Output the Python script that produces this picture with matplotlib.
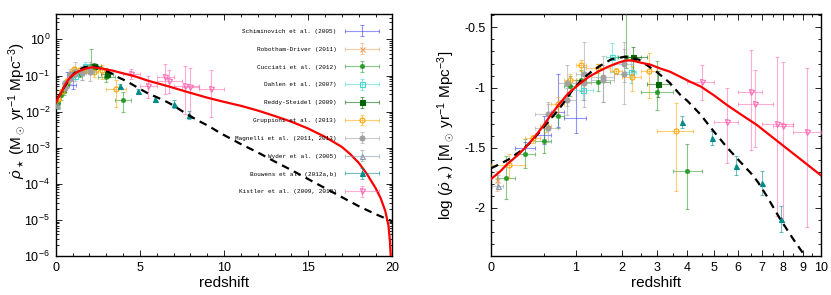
import numpy as np
import matplotlib
matplotlib.use("Agg")
import matplotlib.pyplot as plt
from matplotlib.colors import to_rgba
from matplotlib.container import ErrorbarContainer
from matplotlib.legend_handler import HandlerErrorbar
from matplotlib.ticker import FixedLocator, MultipleLocator, LogLocator, NullFormatter, FormatStrFormatter

plt.rcParams['font.family'] = ['Liberation Sans', 'DejaVu Sans']
plt.rcParams['mathtext.fontset'] = 'custom'
plt.rcParams['mathtext.rm'] = 'Liberation Sans'
plt.rcParams['mathtext.it'] = 'Liberation Sans:italic'
plt.rcParams['axes.unicode_minus'] = False

# model curves, log10 of the star formation rate density
red_z = [0, 0.069, 0.139, 0.229, 0.310, 0.397, 0.489, 0.580, 0.703, 0.865, 1.041, 1.232,
         1.440, 1.664, 1.905, 2.074, 2.243, 2.518, 2.80, 3.14, 3.41, 4.09, 4.47, 4.96, 5.48,
         6.07, 6.77, 7.86, 9.0, 10, 11, 12, 13, 14, 15, 16, 17, 17.5, 18, 18.5, 19, 19.3,
         19.57, 19.76, 19.85, 19.92]
red_v = [-1.76, -1.70, -1.63, -1.56, -1.49, -1.41, -1.32, -1.24, -1.15, -1.05, -0.98, -0.915,
         -0.868, -0.827, -0.794, -0.777, -0.774, -0.794, -0.81, -0.845, -0.868, -0.951, -0.992,
         -1.061, -1.144, -1.219, -1.310, -1.462, -1.614, -1.73, -1.84, -1.97, -2.12, -2.28,
         -2.47, -2.70, -2.98, -3.18, -3.42, -3.74, -4.12, -4.40, -4.75, -5.15, -5.6, -6.2]
black_z = [0, 0.029, 0.139, 0.261, 0.361, 0.469, 0.603, 0.755, 0.922, 1.103, 1.299, 1.513,
           1.741, 2.074, 2.45, 3.0, 3.4, 3.75, 4.0, 4.44, 4.96, 5.5, 6.0, 6.6, 6.84, 7.22,
           7.86, 8.5, 9.09, 9.76, 11, 12, 13, 14, 15, 16, 17, 18, 19, 20]
black_v = [-1.67, -1.656, -1.60, -1.523, -1.449, -1.352, -1.255, -1.153, -1.034, -0.937, -0.868,
           -0.813, -0.765, -0.744, -0.768, -0.87, -0.96, -1.06, -1.11, -1.22, -1.36, -1.50,
           -1.60, -1.73, -1.79, -1.90, -2.09, -2.26, -2.40, -2.59, -2.90, -3.13, -3.38, -3.62,
           -3.87, -4.12, -4.37, -4.62, -4.84, -5.04]

# data sets: redshift, bin edges, log SFRD, upper / lower errors
schim_z = [0.3, 0.5, 0.7, 1.0]
schim_lo = [0.2, 0.4, 0.6, 0.8]
schim_hi = [0.4, 0.6, 0.8, 1.2]
schim_v = [-1.50, -1.39, -1.20, -1.25]
schim_up = [0.05, 0.15, 0.31, 0.31]
schim_dn = [0.05, 0.08, 0.13, 0.13]

rd_z = [0.05]
rd_v = [-1.77]
rd_up = [0.08]
rd_dn = [0.09]

cuc_z = [0.125, 0.3, 0.5, 0.7, 0.9, 1.1, 1.45, 2.1, 3.0, 4.0]
cuc_lo = [0.05, 0.2, 0.4, 0.6, 0.8, 1.0, 1.2, 1.7, 2.5, 3.5]
cuc_hi = [0.2, 0.4, 0.6, 0.8, 1.0, 1.2, 1.7, 2.5, 3.5, 4.5]
cuc_v = [-1.75, -1.55, -1.44, -1.24, -0.99, -0.94, -0.95, -0.75, -1.04, -1.69]
cuc_up = [0.18, 0.12, 0.10, 0.10, 0.09, 0.09, 0.15, 0.49, 0.26, 0.22]
cuc_dn = [0.18, 0.12, 0.10, 0.10, 0.08, 0.09, 0.08, 0.09, 0.15, 0.32]

dah_z = [1.125, 1.75, 2.225]
dah_lo = [0.92, 1.62, 2.08]
dah_hi = [1.33, 1.88, 2.37]
dah_v = [-1.02, -0.75, -0.87]
dah_up = [0.08, 0.12, 0.09]
dah_dn = [0.08, 0.12, 0.09]

rs_z = [2.3, 3.05]
rs_lo = [1.9, 2.7]
rs_hi = [2.7, 3.4]
rs_v = [-0.75, -0.97]
rs_up = [0.09, 0.11]
rs_dn = [0.11, 0.11]

gru_z = [0.15, 0.375, 0.525, 0.7, 0.9, 1.1, 1.45, 1.85, 2.25, 2.75, 3.6]
gru_lo = [0.0, 0.3, 0.45, 0.6, 0.8, 1.0, 1.2, 1.7, 2.0, 2.5, 3.0]
gru_hi = [0.3, 0.45, 0.6, 0.8, 1.0, 1.2, 1.7, 2.0, 2.5, 3.0, 4.2]
gru_v = [-1.64, -1.42, -1.32, -1.14, -0.94, -0.81, -0.84, -0.86, -0.91, -0.86, -1.36]
gru_up = [0.09, 0.03, 0.05, 0.06, 0.05, 0.04, 0.04, 0.02, 0.09, 0.15, 0.23]
gru_dn = [0.11, 0.04, 0.05, 0.06, 0.06, 0.05, 0.04, 0.03, 0.12, 0.23, 0.50]

mag_z = [0.55, 0.85, 1.15, 1.55, 2.05, 0.55, 0.85, 1.15, 1.55, 2.05]
mag_lo = [0.4, 0.7, 1.0, 1.3, 1.8, 0.4, 0.7, 1.0, 1.3, 1.8]
mag_hi = [0.7, 1.0, 1.3, 1.8, 2.3, 0.7, 1.0, 1.3, 1.8, 2.3]
mag_v = [-1.34, -0.96, -0.89, -0.91, -0.89, -1.22, -1.10, -0.96, -0.94, -0.80]
mag_up = [0.22, 0.15, 0.27, 0.17, 0.21, 0.08, 0.10, 0.13, 0.13, 0.18]
mag_dn = [0.11, 0.19, 0.21, 0.21, 0.25, 0.11, 0.13, 0.20, 0.18, 0.15]

wyd_z = [0.055]
wyd_lo = [0.01]
wyd_hi = [0.1]
wyd_v = [-1.82]
wyd_up = [0.09]
wyd_dn = [0.02]

bou_z = [3.8, 4.9, 5.9, 7.0, 7.9]
bou_v = [-1.29, -1.42, -1.65, -1.79, -2.09]
bou_err = [0.05, 0.06, 0.08, 0.10, 0.11]

kis_z = [4.5, 5.5, 6.5, 6.7, 7.7, 8.0, 9.2]
kis_lo = [4.0, 5.0, 6.0, 6.0, 7.0, 7.5, 8.5]
kis_hi = [5.0, 6.0, 7.0, 7.5, 8.5, 8.5, 10.0]
kis_v = [-0.95, -1.29, -1.04, -1.14, -1.30, -1.32, -1.37]
kis_up = [0.14, 0.29, 0.35, 0.29, 0.55, 0.53, 0.53]
kis_dn = [0.15, 0.34, 0.48, 0.35, 0.77, 0.80, 0.79]

datasets = [
    dict(label='Schiminovich et al. (2005)', z=schim_z, lo=schim_lo, hi=schim_hi, v=schim_v, up=schim_up, dn=schim_dn,
         marker=None, color='#3c3cff', filled=True),
    dict(label='Robotham-Driver (2011)', z=rd_z, lo=None, hi=None, v=rd_v, up=rd_up, dn=rd_dn,
         marker='x', color='#f0a060', filled=True),
    dict(label='Cucciati et al. (2012)', z=cuc_z, lo=cuc_lo, hi=cuc_hi, v=cuc_v, up=cuc_up, dn=cuc_dn,
         marker=(8, 2, 0), color='#2a9a2a', filled=True),
    dict(label='Dahlen et al. (2007)', z=dah_z, lo=dah_lo, hi=dah_hi, v=dah_v, up=dah_up, dn=dah_dn,
         marker='s', color='#40d8d0', filled=False),
    dict(label='Reddy-Steidel (2009)', z=rs_z, lo=rs_lo, hi=rs_hi, v=rs_v, up=rs_up, dn=rs_dn,
         marker='s', color='#006400', filled=True),
    dict(label='Gruppioni et al. (2013)', z=gru_z, lo=gru_lo, hi=gru_hi, v=gru_v, up=gru_up, dn=gru_dn,
         marker='o', color='#ffa500', filled=False),
    dict(label='Magnelli et al. (2011, 2013)', z=mag_z, lo=mag_lo, hi=mag_hi, v=mag_v, up=mag_up, dn=mag_dn,
         marker='o', color='#a0a0a0', filled=True),
    dict(label='Wyder et al. (2005)', z=wyd_z, lo=wyd_lo, hi=wyd_hi, v=wyd_v, up=wyd_up, dn=wyd_dn,
         marker='^', color='#8899aa', filled=False),
    dict(label='Bouwens et al. (2012a,b)', z=bou_z, lo=None, hi=None, v=bou_v, up=bou_err, dn=bou_err,
         marker='^', color='#008b8b', filled=True),
    dict(label='Kistler et al. (2009, 2013)', z=kis_z, lo=kis_lo, hi=kis_hi, v=kis_v, up=kis_up, dn=kis_dn,
         marker='v', color='#ff69b4', filled=False),
]

# the right panel's redshift axis is stretched roughly like log(1+z); placed from its ticks
axis_z = np.array([0, 0.5, 1, 1.5, 2, 2.5, 3, 3.5, 4, 4.5, 5, 5.5, 6, 6.5, 7, 7.5, 8, 8.5, 9, 9.5, 10])
axis_f = np.array([0, 53, 84.7, 109.7, 130.7, 149.7, 165.7, 181.7, 196.3, 210.7, 223.3,
                   236.3, 247.3, 259.7, 270.7, 281.7, 291.7, 302.3, 312.3, 321.3, 330]) / 330.0


def zfwd(z):
    z = np.clip(np.asarray(z, dtype=float), 0, None)
    return np.interp(np.log1p(z), np.log1p(axis_z), axis_f)


def zinv(f):
    return np.expm1(np.interp(f, axis_f, np.log1p(axis_z)))


def style(d):
    kw = dict(color=d['color'], ecolor=to_rgba(d['color'], 0.55),
              elinewidth=0.8, capsize=1.6, capthick=0.8)
    if d['marker'] is None:
        kw['fmt'] = 'none'
    else:
        kw.update(fmt='', ls='none', marker=d['marker'], ms=3.6, mew=0.8, mec=d['color'],
                  mfc=d['color'] if d['filled'] else 'none')
    return kw


def draw(ax, d, linear):
    z = np.array(d['z'])
    v = np.array(d['v'])
    up = np.array(d['up'])
    dn = np.array(d['dn'])
    xerr = None
    if d['lo'] is not None:
        xerr = [z - np.array(d['lo']), np.array(d['hi']) - z]
    if linear:
        y = 10.0 ** v
        yerr = [y - 10.0 ** (v - dn), 10.0 ** (v + up) - y]
    else:
        y = v
        yerr = [dn, up]
    ax.errorbar(z, y, xerr=xerr, yerr=yerr, zorder=3, **style(d))


fig = plt.figure(figsize=(8.31, 2.95), dpi=100)
ax1 = fig.add_axes([0.067, 0.132, 0.4053, 0.820])
ax2 = fig.add_axes([0.5909, 0.132, 0.3971, 0.820])

# ---------------- left panel ----------------
for d in datasets:
    draw(ax1, d, True)
ax1.plot(black_z, 10.0 ** np.array(black_v), color='black', lw=1.6, ls=(0, (3.5, 2.5)), zorder=4)
ax1.plot(red_z, 10.0 ** np.array(red_v), color='#ff0000', lw=1.6, zorder=5)
ax1.set_yscale('log')
ax1.set_xlim(0, 20)
ax1.set_ylim(1e-6, 5)
ax1.xaxis.set_major_locator(FixedLocator([0, 5, 10, 15, 20]))
ax1.xaxis.set_minor_locator(MultipleLocator(1))
ax1.yaxis.set_major_locator(LogLocator(base=10, numticks=20))
ax1.yaxis.set_minor_locator(LogLocator(base=10, subs=np.arange(2, 10), numticks=20))
ax1.yaxis.set_minor_formatter(NullFormatter())
ax1.set_xlabel('redshift', fontsize=11, labelpad=2)
ax1.set_ylabel(r'$\dot{\rho}_\star$ (M$_\odot$ yr$^{-1}$ Mpc$^{-3}$)', fontsize=11)
ax1.yaxis.set_label_coords(-0.085, 0.6)

handles = []
for d in datasets:
    h = ax1.errorbar([np.nan], [np.nan], xerr=[1.0], yerr=[1.0], label=d['label'], **style(d))
    handles.append(h)
ax1.legend(handles=handles, loc='upper right', bbox_to_anchor=(0.962, 0.94), frameon=False,
           markerfirst=False, prop={'family': 'Liberation Mono', 'size': 4.3},
           labelspacing=2.12, handlelength=5.9, handletextpad=1.3, borderaxespad=0, borderpad=0,
           handler_map={ErrorbarContainer: HandlerErrorbar(xerr_size=2.9, yerr_size=0.9)})

# ---------------- right panel ----------------
ax2.set_xscale('function', functions=(zfwd, zinv))
for d in datasets:
    draw(ax2, d, False)
bz = np.array(black_z)
rz = np.array(red_z)
ax2.plot(bz[bz <= 10], np.array(black_v)[bz <= 10], color='black', lw=1.6, ls=(0, (3.5, 2.5)), zorder=4)
ax2.plot(rz[rz <= 10], np.array(red_v)[rz <= 10], color='#ff0000', lw=1.6, zorder=5)
ax2.set_xlim(0, 10)
ax2.set_ylim(-2.4, -0.39)
ax2.xaxis.set_major_locator(FixedLocator(list(range(11))))
ax2.xaxis.set_major_formatter(FormatStrFormatter('%d'))
ax2.xaxis.set_minor_locator(MultipleLocator(0.5))
ax2.yaxis.set_major_locator(FixedLocator([-2, -1.5, -1, -0.5]))
ax2.yaxis.set_major_formatter(FormatStrFormatter('%g'))
ax2.yaxis.set_minor_locator(MultipleLocator(0.1))
ax2.set_xlabel('redshift', fontsize=11, labelpad=2)
ax2.set_ylabel(r'log ($\dot{\rho}_\star$) [M$_\odot$ yr$^{-1}$ Mpc$^{-3}$]', fontsize=11, labelpad=6)

for ax in (ax1, ax2):
    ax.tick_params(which='both', direction='in', top=True, right=True, labelsize=9, width=0.6)
    ax.tick_params(which='major', length=4, pad=4)
    ax.tick_params(which='minor', length=2.2)
    for s in ax.spines.values():
        s.set_linewidth(1.0)

fig.savefig('out.png', dpi=100)
